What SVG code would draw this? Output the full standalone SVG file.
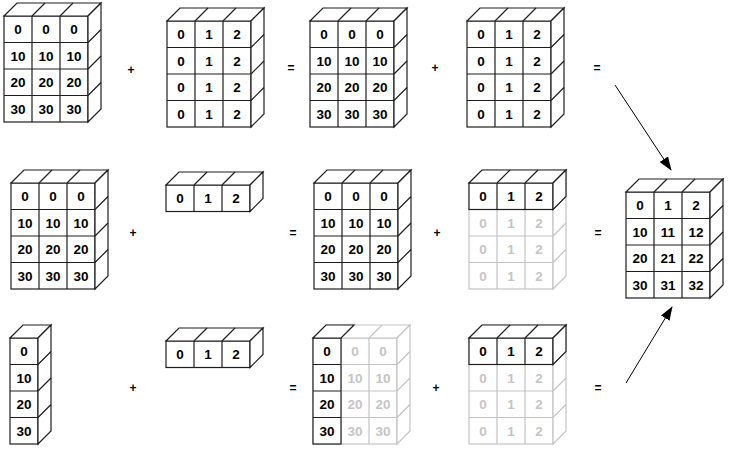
<svg xmlns="http://www.w3.org/2000/svg" xmlns:xlink="http://www.w3.org/1999/xlink" width="737" height="460" viewBox="0 0 737 460">
<style>
.dk{stroke:#1e1e1e;stroke-width:1.2;fill:#fff}
.gh{stroke:#c4c4c4;stroke-width:1.2;fill:#fff}
.n{font-family:"Liberation Sans",Arial,sans-serif;font-weight:bold;font-size:13.5px;text-anchor:middle;fill:#000}
.ng{fill:#c4c4c4}
.op{font-family:"Liberation Sans",Arial,sans-serif;font-weight:bold;font-size:12px;text-anchor:middle;fill:#000}
.ar{stroke:#000;stroke-width:1;fill:none}
</style>
<defs>
<g id="g34">
<rect x="0" y="0" width="84" height="106"/>
<polygon points="0,0 13,-13 97,-13 84,0"/>
<polygon points="84,0 97,-13 97,93 84,106"/>
<path d="M28,0V106M56,0V106M0,26.5H84M0,53H84M0,79.5H84M28,0L41,-13M56,0L69,-13M84,26.5L97,13.5M84,53L97,40M84,79.5L97,66.5" fill="none"/>
</g>
<g id="g13">
<rect x="0" y="0" width="84" height="26.5"/>
<polygon points="0,0 13,-13 97,-13 84,0"/>
<polygon points="84,0 97,-13 97,13.5 84,26.5"/>
<path d="M28,0V26.5M56,0V26.5M28,0L41,-13M56,0L69,-13" fill="none"/>
</g>
<g id="g41">
<rect x="0" y="0" width="28" height="106"/>
<polygon points="0,0 13,-13 41,-13 28,0"/>
<polygon points="28,0 41,-13 41,93 28,106"/>
<path d="M0,26.5H28M0,53H28M0,79.5H28M28,26.5L41,13.5M28,53L41,40M28,79.5L41,66.5" fill="none"/>
</g>
<g id="g41f">
<rect x="0" y="0" width="28" height="106"/>
<polygon points="0,0 13,-13 41,-13 28,0"/>
<path d="M0,26.5H28M0,53H28M0,79.5H28" fill="none"/>
</g>
<marker id="ah" markerWidth="14" markerHeight="10" refX="13" refY="5" orient="auto" markerUnits="userSpaceOnUse">
<polygon points="0,0 14,5 0,10" fill="#000"/>
</marker>
</defs>

<!-- Row 1 -->
<g id="r1a" transform="translate(4,16)">
<use xlink:href="#g34" class="dk"/>
<text class="n" x="14" y="18">0</text><text class="n" x="42" y="18">0</text><text class="n" x="70" y="18">0</text>
<text class="n" x="14" y="44.5">10</text><text class="n" x="42" y="44.5">10</text><text class="n" x="70" y="44.5">10</text>
<text class="n" x="14" y="71">20</text><text class="n" x="42" y="71">20</text><text class="n" x="70" y="71">20</text>
<text class="n" x="14" y="97.5">30</text><text class="n" x="42" y="97.5">30</text><text class="n" x="70" y="97.5">30</text>
</g>
<g id="r1b" transform="translate(167,21)">
<use xlink:href="#g34" class="dk"/>
<text class="n" x="14" y="18">0</text><text class="n" x="42" y="18">1</text><text class="n" x="70" y="18">2</text>
<text class="n" x="14" y="44.5">0</text><text class="n" x="42" y="44.5">1</text><text class="n" x="70" y="44.5">2</text>
<text class="n" x="14" y="71">0</text><text class="n" x="42" y="71">1</text><text class="n" x="70" y="71">2</text>
<text class="n" x="14" y="97.5">0</text><text class="n" x="42" y="97.5">1</text><text class="n" x="70" y="97.5">2</text>
</g>
<g id="r1c" transform="translate(310,21)">
<use xlink:href="#g34" class="dk"/>
<text class="n" x="14" y="18">0</text><text class="n" x="42" y="18">0</text><text class="n" x="70" y="18">0</text>
<text class="n" x="14" y="44.5">10</text><text class="n" x="42" y="44.5">10</text><text class="n" x="70" y="44.5">10</text>
<text class="n" x="14" y="71">20</text><text class="n" x="42" y="71">20</text><text class="n" x="70" y="71">20</text>
<text class="n" x="14" y="97.5">30</text><text class="n" x="42" y="97.5">30</text><text class="n" x="70" y="97.5">30</text>
</g>
<g id="r1d" transform="translate(467,21)">
<use xlink:href="#g34" class="dk"/>
<text class="n" x="14" y="18">0</text><text class="n" x="42" y="18">1</text><text class="n" x="70" y="18">2</text>
<text class="n" x="14" y="44.5">0</text><text class="n" x="42" y="44.5">1</text><text class="n" x="70" y="44.5">2</text>
<text class="n" x="14" y="71">0</text><text class="n" x="42" y="71">1</text><text class="n" x="70" y="71">2</text>
<text class="n" x="14" y="97.5">0</text><text class="n" x="42" y="97.5">1</text><text class="n" x="70" y="97.5">2</text>
</g>

<!-- Row 2 -->
<g id="r2a" transform="translate(11,183)">
<use xlink:href="#g34" class="dk"/>
<text class="n" x="14" y="18">0</text><text class="n" x="42" y="18">0</text><text class="n" x="70" y="18">0</text>
<text class="n" x="14" y="44.5">10</text><text class="n" x="42" y="44.5">10</text><text class="n" x="70" y="44.5">10</text>
<text class="n" x="14" y="71">20</text><text class="n" x="42" y="71">20</text><text class="n" x="70" y="71">20</text>
<text class="n" x="14" y="97.5">30</text><text class="n" x="42" y="97.5">30</text><text class="n" x="70" y="97.5">30</text>
</g>
<g id="r2b" transform="translate(166,185)">
<use xlink:href="#g13" class="dk"/>
<text class="n" x="14" y="18">0</text><text class="n" x="42" y="18">1</text><text class="n" x="70" y="18">2</text>
</g>
<g id="r2c" transform="translate(314,183)">
<use xlink:href="#g34" class="dk"/>
<text class="n" x="14" y="18">0</text><text class="n" x="42" y="18">0</text><text class="n" x="70" y="18">0</text>
<text class="n" x="14" y="44.5">10</text><text class="n" x="42" y="44.5">10</text><text class="n" x="70" y="44.5">10</text>
<text class="n" x="14" y="71">20</text><text class="n" x="42" y="71">20</text><text class="n" x="70" y="71">20</text>
<text class="n" x="14" y="97.5">30</text><text class="n" x="42" y="97.5">30</text><text class="n" x="70" y="97.5">30</text>
</g>
<g id="r2d" transform="translate(469,183)">
<use xlink:href="#g34" class="gh"/>
<use xlink:href="#g13" class="dk"/>
<text class="n" x="14" y="18">0</text><text class="n" x="42" y="18">1</text><text class="n" x="70" y="18">2</text>
<text class="n ng" x="14" y="44.5">0</text><text class="n ng" x="42" y="44.5">1</text><text class="n ng" x="70" y="44.5">2</text>
<text class="n ng" x="14" y="71">0</text><text class="n ng" x="42" y="71">1</text><text class="n ng" x="70" y="71">2</text>
<text class="n ng" x="14" y="97.5">0</text><text class="n ng" x="42" y="97.5">1</text><text class="n ng" x="70" y="97.5">2</text>
</g>
<g id="result" transform="translate(626,192)">
<use xlink:href="#g34" class="dk"/>
<text class="n" x="14" y="18">0</text><text class="n" x="42" y="18">1</text><text class="n" x="70" y="18">2</text>
<text class="n" x="14" y="44.5">10</text><text class="n" x="42" y="44.5">11</text><text class="n" x="70" y="44.5">12</text>
<text class="n" x="14" y="71">20</text><text class="n" x="42" y="71">21</text><text class="n" x="70" y="71">22</text>
<text class="n" x="14" y="97.5">30</text><text class="n" x="42" y="97.5">31</text><text class="n" x="70" y="97.5">32</text>
</g>

<!-- Row 3 -->
<g id="r3a" transform="translate(10,338)">
<use xlink:href="#g41" class="dk"/>
<text class="n" x="14" y="18">0</text>
<text class="n" x="14" y="44.5">10</text>
<text class="n" x="14" y="71">20</text>
<text class="n" x="14" y="97.5">30</text>
</g>
<g id="r3b" transform="translate(166,341)">
<use xlink:href="#g13" class="dk"/>
<text class="n" x="14" y="18">0</text><text class="n" x="42" y="18">1</text><text class="n" x="70" y="18">2</text>
</g>
<g id="r3c" transform="translate(313,338)">
<use xlink:href="#g34" class="gh"/>
<use xlink:href="#g41f" class="dk"/>
<text class="n" x="14" y="18">0</text><text class="n ng" x="42" y="18">0</text><text class="n ng" x="70" y="18">0</text>
<text class="n" x="14" y="44.5">10</text><text class="n ng" x="42" y="44.5">10</text><text class="n ng" x="70" y="44.5">10</text>
<text class="n" x="14" y="71">20</text><text class="n ng" x="42" y="71">20</text><text class="n ng" x="70" y="71">20</text>
<text class="n" x="14" y="97.5">30</text><text class="n ng" x="42" y="97.5">30</text><text class="n ng" x="70" y="97.5">30</text>
</g>
<g id="r3d" transform="translate(469,338)">
<use xlink:href="#g34" class="gh"/>
<use xlink:href="#g13" class="dk"/>
<text class="n" x="14" y="18">0</text><text class="n" x="42" y="18">1</text><text class="n" x="70" y="18">2</text>
<text class="n ng" x="14" y="44.5">0</text><text class="n ng" x="42" y="44.5">1</text><text class="n ng" x="70" y="44.5">2</text>
<text class="n ng" x="14" y="71">0</text><text class="n ng" x="42" y="71">1</text><text class="n ng" x="70" y="71">2</text>
<text class="n ng" x="14" y="97.5">0</text><text class="n ng" x="42" y="97.5">1</text><text class="n ng" x="70" y="97.5">2</text>
</g>

<!-- Operators -->
<g id="ops">
<text class="op" x="131" y="74">+</text><text class="op" x="291" y="72">=</text><text class="op" x="435" y="72">+</text><text class="op" x="597" y="72">=</text>
<text class="op" x="133" y="237">+</text><text class="op" x="293" y="237">=</text><text class="op" x="437" y="237">+</text><text class="op" x="598" y="237">=</text>
<text class="op" x="133" y="392">+</text><text class="op" x="293" y="392">=</text><text class="op" x="436" y="392">+</text><text class="op" x="598" y="392">=</text>
</g>

<!-- Connectors -->
<g id="connectors">
<line class="ar" x1="615" y1="85" x2="671" y2="170" marker-end="url(#ah)"/>
<line class="ar" x1="626" y1="383" x2="672" y2="307" marker-end="url(#ah)"/>
</g>
</svg>
